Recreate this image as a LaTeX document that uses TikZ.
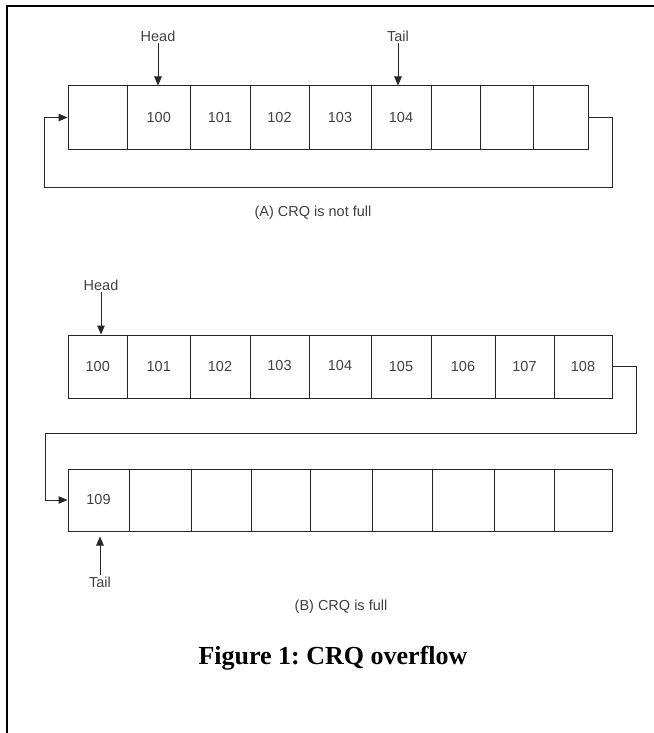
\documentclass[tikz,border=0pt]{standalone}
\usepackage{fontspec}
\setmainfont{Liberation Serif}
\newfontfamily\arial{Liberation Sans}
\usetikzlibrary{arrows.meta}
\definecolor{txt}{HTML}{404040}
\definecolor{ln}{HTML}{262626}
\tikzset{
  cell/.style={draw=ln, line width=1pt, minimum height=63pt, inner sep=0pt, font=\arial\fontsize{14.5}{16}\selectfont, text=txt},
  lbl/.style={inner sep=1pt, font=\arial\fontsize{14.5}{16}\selectfont, text=txt},
  arr/.style={draw=ln, line width=1pt, -{Triangle[length=9pt,width=7.5pt]}},
  wire/.style={draw=ln, line width=1pt},
  frame/.style={draw=black, line width=1.6pt}
}
\newcommand{\cellat}[6]{% name, x1, x2, yc, text, h
  \node[cell, minimum width={#3-#2}, minimum height=#6] (#1) at ({(#2+#3)/2},#4) {#5};}
\begin{document}
\begin{tikzpicture}[x=1pt,y=-1pt]
\useasboundingbox (0,0) rectangle (653,733);
% frame
\coordinate (fbl) at (7,740);
\coordinate (ftl) at (7,6);
\coordinate (ftr) at (660,6);
\draw[frame] (fbl) -- (ftl) -- (ftr);
% Row A
\cellat{a1}{68}{127.5}{117.5}{}{63pt}
\cellat{a2}{127.5}{190}{117.5}{100}{63pt}
\cellat{a3}{190}{250}{117.5}{101}{63pt}
\cellat{a4}{250}{309}{117.5}{102}{63pt}
\cellat{a5}{309}{371}{117.5}{103}{63pt}
\cellat{a6}{371}{431}{117.5}{\raisebox{-2pt}{104}}{63pt}
\cellat{a7}{431}{480}{117.5}{}{63pt}
\cellat{a8}{480}{533}{117.5}{}{63pt}
\cellat{a9}{533}{588}{117.5}{}{63pt}
\node[lbl] (hA) at (158,36) {Head};
\node[lbl] (tA) at (398,36) {Tail};
\draw[arr] (hA.south) -- (hA.south |- a2.north);
\draw[arr] (tA.south) -- (tA.south |- a6.north);
\coordinate (ar) at (612,187);
\coordinate (al) at (44,187);
\draw[arr] (a9.east) -| (ar) -- (al) |- (a1.west);
\node[lbl] (capA) at (313,213) {(A) CRQ is not full};
% Row B
\cellat{b1}{68}{127.5}{366.5}{100}{63pt}
\cellat{b2}{127.5}{190}{366.5}{101}{63pt}
\cellat{b3}{190}{250}{366.5}{102}{63pt}
\cellat{b4}{250}{309}{366.5}{\raisebox{2pt}{103}}{63pt}
\cellat{b5}{309}{371}{366.5}{\raisebox{2pt}{104}}{63pt}
\cellat{b6}{371}{431}{366.5}{105}{63pt}
\cellat{b7}{431}{495}{366.5}{106}{63pt}
\cellat{b8}{495}{554}{366.5}{107}{63pt}
\cellat{b9}{554}{612}{366.5}{108}{63pt}
\node[lbl] (hB) at (101,285) {Head};
\draw[arr] (hB.south) -- (hB.south |- b1.north);
% Row C
\cellat{c1}{68}{129}{500}{109}{62pt}
\cellat{c2}{129}{191}{500}{}{62pt}
\cellat{c3}{191}{251}{500}{}{62pt}
\cellat{c4}{251}{310}{500}{}{62pt}
\cellat{c5}{310}{372}{500}{}{62pt}
\cellat{c6}{372}{432}{500}{}{62pt}
\cellat{c7}{432}{494}{500}{}{62pt}
\cellat{c8}{494}{554}{500}{}{62pt}
\cellat{c9}{554}{612}{500}{}{62pt}
\coordinate (br) at (636,433);
\coordinate (bl) at (45,433);
\draw[arr] (b9.east) -| (br) -- (bl) |- (c1.west);
\node[lbl] (tC) at (100,582) {Tail};
\draw[arr, shorten >=5pt] (tC.north) -- (tC.north |- c1.south);
\node[lbl] (capB) at (341,607) {(B) CRQ is full};
% Figure caption
\node[inner sep=0pt, font=\bfseries\fontsize{26}{30}\selectfont] (fig) at (333,658) {\frenchspacing Figure 1: CRQ overflow};
\end{tikzpicture}
\end{document}
